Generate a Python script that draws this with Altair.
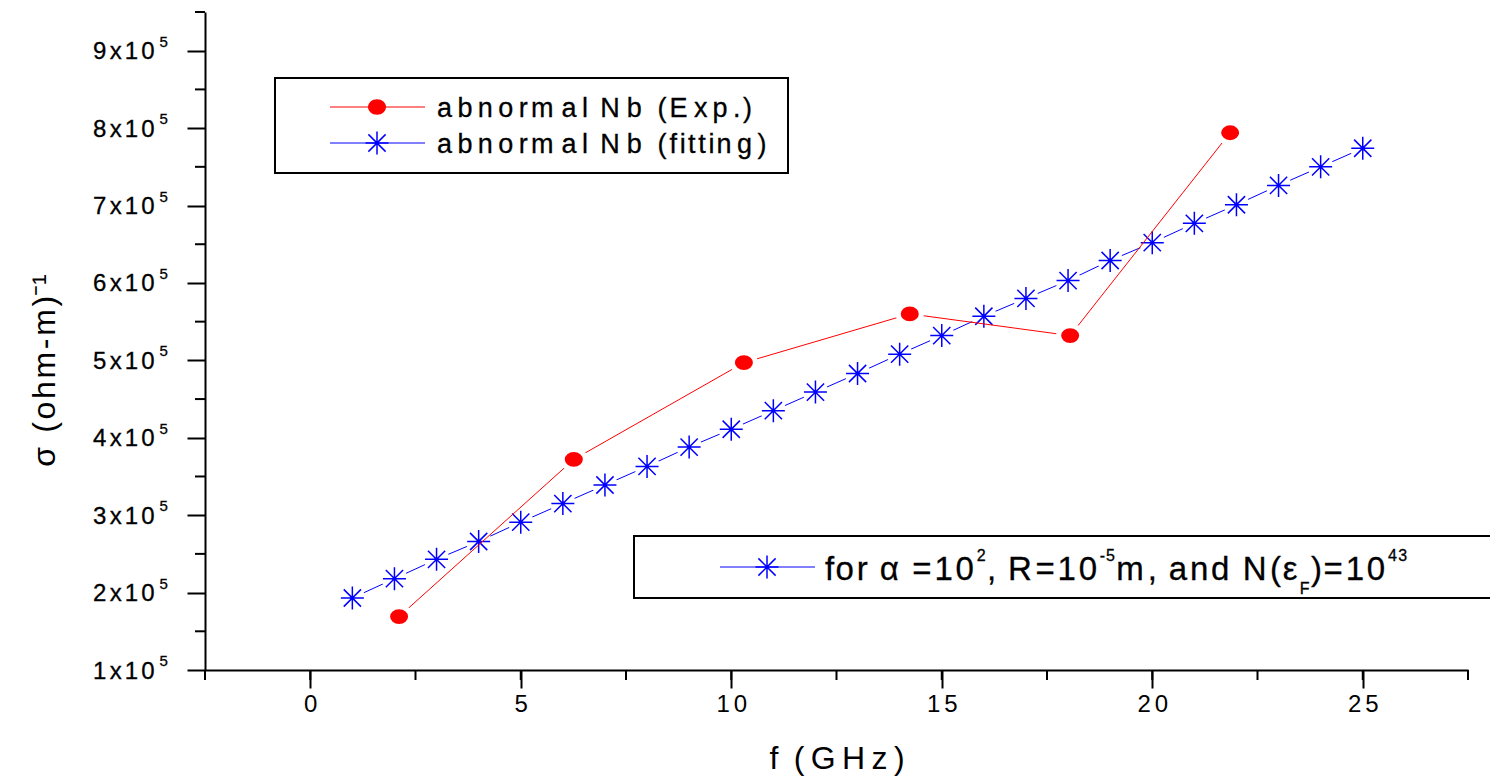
import altair as alt
import pandas as pd

FONT = "Liberation Sans"
RED = "#ff0000"
BLUE = "#0000ff"
THIN = "\u2009"  # thin space used as letter spacing
HAIR = "\u200a"

# Measured conductivity of abnormal Nb
exp_f = [2.11, 6.26, 10.30, 14.24, 18.05, 21.85]
exp_sigma = [1.69e5, 3.72e5, 4.97e5, 5.60e5, 5.32e5, 7.94e5]

# Fitted conductivity
fit_f = [1, 2, 3, 4, 5, 6, 7, 8, 9, 10, 11, 12, 13, 14, 15, 16, 17, 18, 19, 20,
         21, 22, 23, 24, 25]
fit_sigma = [1.93e5, 2.18e5, 2.43e5, 2.66e5, 2.91e5, 3.15e5, 3.39e5, 3.63e5,
             3.88e5, 4.11e5, 4.35e5, 4.59e5, 4.83e5, 5.08e5, 5.32e5, 5.57e5,
             5.80e5, 6.03e5, 6.29e5, 6.52e5, 6.77e5, 7.01e5, 7.26e5, 7.50e5,
             7.74e5]

x_major = [0, 5, 10, 15, 20, 25]
x_minor = [-2.5, 0, 2.5, 5, 7.5, 10, 12.5, 15, 17.5, 20, 22.5, 25, 27.5]
y_major = [1e5, 2e5, 3e5, 4e5, 5e5, 6e5, 7e5, 8e5, 9e5]
y_minor = [1.5e5, 2.5e5, 3.5e5, 4.5e5, 5.5e5, 6.5e5, 7.5e5, 8.5e5, 9.5e5]

W, H = 1263, 658

exp_df = pd.DataFrame({"f": exp_f, "sigma": exp_sigma})
fit_df = pd.DataFrame({"f": fit_f, "sigma": fit_sigma})

xs = alt.Scale(domain=[-2.5, 27.5], nice=False, zero=False)
ys = alt.Scale(domain=[1e5, 9.5e5], nice=False, zero=False)

ASTERISK = "M-1,0L1,0M0,-1L0,1M-0.75,-0.75L0.75,0.75M-0.75,0.75L0.75,-0.75"
ELLIPSE = "M-1,0A1,0.86,0,1,0,1,0A1,0.86,0,1,0,-1,0Z"

# glyph advances (per 1000 em) used to spread the hand-set labels
ADV = {'a': 556, 'b': 556, 'n': 556, 'o': 556, 'r': 333, 'm': 833, 'l': 222,
       ' ': 278, 'N': 722, '(': 333, ')': 333, 'E': 667, 'x': 500, 'p': 556,
       '.': 278, 'f': 278, 'i': 222, 't': 278, 'g': 556, 'α': 578, '=': 584,
       ',': 278, 'R': 722, '-': 333, 'd': 556, 'ε': 446, 'F': 611}
for digit in "0123456789":
    ADV[digit] = 556


def set_text(segments, x0, base, stretch):
    rows, x = [], x0
    for text, size, shift in segments:
        for ch in text:
            rows.append({"ch": ch, "px": x, "py": base + shift, "sz": size})
            x += ADV[ch] * size / 1000 * stretch
    return rows


x_axis = alt.Axis(
    values=x_major, grid=False, tickSize=18, tickWidth=2, tickColor="black",
    domainWidth=2, domainColor="black", labelFont=FONT, labelFontSize=24,
    labelColor="black", labelPadding=4, labelFlush=False,
    labelExpr=f"length(datum.label) > 1 ? slice(datum.label,0,1) + '{HAIR}{HAIR}' + slice(datum.label,1) : datum.label",
    title="f" + THIN + " (" + THIN + THIN.join(list("GHz")) + THIN + ")",
    titleFont=FONT, titleFontSize=32,
    titleFontWeight="normal", titleColor="black", titleBaseline="alphabetic",
    titleY=98,
)
y_axis = alt.Axis(
    values=y_major, grid=False, tickSize=18, tickWidth=2, tickColor="black",
    domainWidth=2, domainColor="black", labels=False,
    title=HAIR.join(list("σ (ohm-m)")) + "⁻¹", titleFont=FONT, titleFontSize=32,
    titleFontWeight="normal", titleColor="black", titleBaseline="alphabetic",
    titleAngle=-90, titleAlign="center", titleX=-151, titleY=358,
)

X = alt.X("f:Q", scale=xs)
Y = alt.Y("sigma:Q", scale=ys)

fit_line = alt.Chart(fit_df).mark_line(color=BLUE, strokeWidth=1).encode(
    x=alt.X("f:Q", scale=xs, axis=x_axis),
    y=alt.Y("sigma:Q", scale=ys, axis=y_axis),
)
# white discs open a small gap in the line around each asterisk
fit_gap = alt.Chart(fit_df).mark_circle(color="white", size=650, opacity=1).encode(x=X, y=Y)
fit_pts = alt.Chart(fit_df).mark_point(
    shape=ASTERISK, filled=False, color=BLUE, size=529, strokeWidth=1.5, opacity=1
).encode(x=X, y=Y)

exp_line = alt.Chart(exp_df).mark_line(color=RED, strokeWidth=1).encode(x=X, y=Y)
exp_pts = alt.Chart(exp_df).mark_point(
    shape=ELLIPSE, filled=True, fill=RED, stroke="white", strokeWidth=5,
    size=529, opacity=1
).encode(x=X, y=Y)

# minor ticks along both axes
xminor = alt.Chart(pd.DataFrame({"f": x_minor})).mark_rule(
    color="black", strokeWidth=2
).encode(x=X, y=alt.value(H), y2=alt.value(H + 10))
yminor = alt.Chart(pd.DataFrame({"sigma": y_minor})).mark_rule(
    color="black", strokeWidth=2
).encode(y=Y, x=alt.value(0), x2=alt.value(-10))

# y tick labels of the form  n x 10^5
tick_main, tick_sup = [], []
for v in y_major:
    mant = str(int(round(v / 1e5)))
    x = -112
    for ch in mant + "x10":
        tick_main.append({"ch": ch, "px": x, "sigma": v})
        x += ADV[ch] * 24 / 1000 * 1.25
    tick_sup.append({"ch": "5", "px": x + 1.5, "sigma": v})


def tick_layer(rows, size, dy):
    return alt.Chart(pd.DataFrame(rows)).mark_text(
        align="left", baseline="alphabetic", font=FONT, fontSize=size,
        dy=dy, color="black", stroke="black", strokeWidth=0.3
    ).encode(x=alt.X("px:Q", scale=None, axis=None), y=Y, text="ch:N")


ylab_main = tick_layer(tick_main, 24, 8.5)
ylab_sup = tick_layer(tick_sup, 15, -4)

# ---- legends ----
rows = []
rows += set_text([("abnormal Nb (Exp.)", 27, 0)], 232, 105, 1.36)
rows += set_text([("abnormal Nb (fitting)", 27, 0)], 232, 141, 1.36)
rows += set_text([
    ("for α =10", 33, 0), ("2", 16, -19), (", R=10", 33, 0), ("-5", 16, -19),
    ("m, and N(ε", 33, 0), ("F", 16, 14), (")=10", 33, 0), ("43", 16, -19),
], 620, 568, 1.15)
legend_text = alt.Chart(pd.DataFrame(rows)).mark_text(
    align="left", baseline="alphabetic", font=FONT, color="black",
    stroke="black", strokeWidth=0.3
).encode(
    x=alt.X("px:Q", scale=None, axis=None),
    y=alt.Y("py:Q", scale=None, axis=None),
    size=alt.Size("sz:Q", scale=None, legend=None),
    text="ch:N",
)

boxes = alt.Chart(pd.DataFrame({
    "x": [70, 429], "x2": [583, 1330], "y": [66, 524], "y2": [161, 586]
})).mark_rect(fill="white", stroke="black", strokeWidth=2).encode(
    x=alt.X("x:Q", scale=None, axis=None), x2="x2:Q",
    y=alt.Y("y:Q", scale=None, axis=None), y2="y2:Q",
)

key_lines = alt.Chart(pd.DataFrame({
    "x": [125, 125, 515], "x2": [220, 220, 610], "y": [95, 131, 555],
    "c": [RED, BLUE, BLUE]
})).mark_rule(strokeWidth=1).encode(
    x=alt.X("x:Q", scale=None, axis=None), x2="x2:Q",
    y=alt.Y("y:Q", scale=None, axis=None),
    color=alt.Color("c:N", scale=None, legend=None),
)
key_dot = alt.Chart(pd.DataFrame({"x": [172], "y": [95]})).mark_point(
    shape=ELLIPSE, filled=True, fill=RED, strokeWidth=0, size=324, opacity=1
).encode(x=alt.X("x:Q", scale=None, axis=None), y=alt.Y("y:Q", scale=None, axis=None))
key_star = alt.Chart(pd.DataFrame({"x": [172, 562], "y": [131, 555]})).mark_point(
    shape=ASTERISK, filled=False, color=BLUE, size=529, strokeWidth=1.5, opacity=1
).encode(x=alt.X("x:Q", scale=None, axis=None), y=alt.Y("y:Q", scale=None, axis=None))

chart = alt.layer(
    fit_line, fit_gap, fit_pts, exp_line, exp_pts, xminor, yminor,
    ylab_main, ylab_sup,
    boxes, key_lines, key_dot, key_star, legend_text,
).properties(
    width=W, height=H,
    padding={"left": 205, "top": 12, "right": 22, "bottom": 108},
    autosize=alt.AutoSizeParams(type="none"),
    background="white",
).configure_view(stroke=None)

chart.save("out.html", embed_options={"renderer": "svg", "actions": False})
